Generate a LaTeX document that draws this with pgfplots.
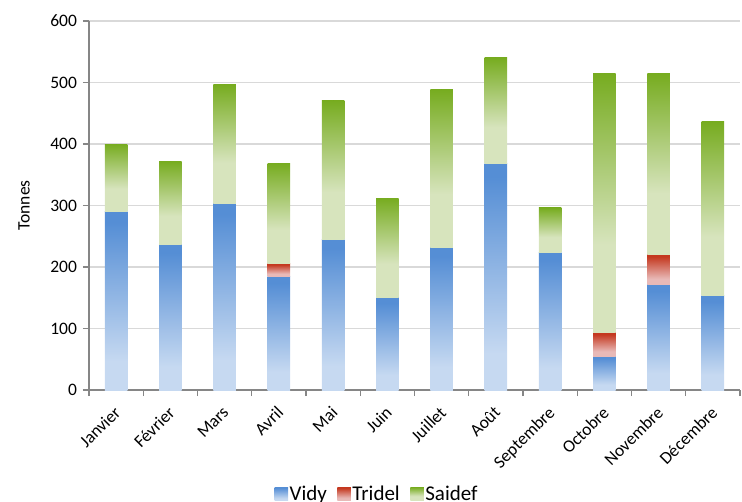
\documentclass[border=0pt]{standalone}
\usepackage{fontspec}
\setmainfont{Carlito}
\usepackage{pgfplots}
\usepackage{pgfplotstable}
\pgfplotsset{compat=1.18}

\definecolor{vidyD}{HTML}{558ED5}
\definecolor{vidyL}{HTML}{C6D9F1}
\definecolor{tridelD}{HTML}{C4381F}
\definecolor{tridelL}{HTML}{E8B9B7}
\definecolor{saidefD}{HTML}{77AC20}
\definecolor{saidefL}{HTML}{D7E4BD}
\definecolor{axgray}{HTML}{868686}
\definecolor{grgray}{HTML}{D9D9D9}

\pgfdeclareverticalshading{vidy}{100bp}{color(0bp)=(vidyL); color(25bp)=(vidyL); color(33bp)=(vidyL); color(72bp)=(vidyD); color(100bp)=(vidyD)}
\pgfdeclareverticalshading{tridel}{100bp}{color(0bp)=(tridelL); color(25bp)=(tridelL); color(35bp)=(tridelL); color(72bp)=(tridelD); color(100bp)=(tridelD)}
\pgfdeclareverticalshading{saidef}{100bp}{color(0bp)=(saidefL); color(25bp)=(saidefL); color(42bp)=(saidefL); color(75bp)=(saidefD); color(100bp)=(saidefD)}

% tonnes par mois
\pgfplotstableread{
x vidy tridel saidef
0  290 0  110
1  237 0  135
2  304 0  193
3  185 20 164
4  245 0  225
5  150 0  162
6  231 0  257
7  369 0  171
8  224 0  72
9  55  38 422
10 171 49 294
11 153 0  283
}\data

% one shaded bar per point: top at the point, height \barv tonnes (0.615pt per tonne)
\newdimen\barh
\pgfplotsset{
  gbar/.style={
    scatter, only marks, mark=*, mark size=0pt,
    mark options={draw=none, fill=none},
    scatter/@pre marker code/.code={%
      \pgfmathparse{\barv*0.615}%
      \barh=\pgfmathresult pt\relax
      \ifdim\barh>0.01pt
        \shade[shading=#1, draw=none] (-11.25pt,0pt) rectangle (11.25pt,-\barh);
      \fi},
    scatter/@post marker code/.code={},
    legend image code/.code={\shade[shading=#1, draw=none] (0pt,-6.5pt) rectangle (13.5pt,7pt);},
  },
}

\begin{document}
\begin{tikzpicture}
\fontsize{17.5}{21}\selectfont
\useasboundingbox (-89pt,-111pt) rectangle (653pt,390pt);
\begin{axis}[
    at={(0,0)}, anchor=south west,
    scale only axis,
    width=651pt, height=369pt,
    xmin=-0.5, xmax=11.5,
    ymin=0, ymax=600,
    ytick={0,100,...,600},
    xtick={0,...,11},
    xticklabels={Janvier,Février,Mars,Avril,Mai,Juin,Juillet,Août,Septembre,Octobre,Novembre,Décembre},
    minor xtick={-0.5,0.5,...,11.5},
    major x tick style={draw=none},
    tick align=outside,
    major tick length=6pt,
    minor tick length=6pt,
    tick style={axgray, line width=1.3pt},
    axis x line*=bottom,
    axis y line*=left,
    axis line style={axgray, line width=1.5pt, -},
    ymajorgrids=true,
    major grid style={grgray, line width=1.3pt},
    xticklabel style={xshift=-3pt, yshift=-9pt, rotate=45, anchor=north east, inner sep=0pt},
    /pgf/number format/assume math mode=true,
    ylabel={Tonnes},
    every axis y label/.style={at={(axis description cs:-0.0998,0.5)}, rotate=90, anchor=center},
    legend style={at={(0.2803,-0.3157)}, anchor=south west, draw=none, fill=none,
        font=\fontsize{21}{25}\selectfont,
        nodes={inner sep=1.5pt},
        legend columns=-1, /tikz/every even column/.append style={column sep=9pt}},
]
\addplot[gbar=vidy, visualization depends on={\thisrow{vidy} \as \barv}]
    table[x=x, y=vidy] {\data};
\addplot[gbar=tridel, visualization depends on={\thisrow{tridel} \as \barv}]
    table[x=x, y expr=\thisrow{vidy}+\thisrow{tridel}] {\data};
\addplot[gbar=saidef, visualization depends on={\thisrow{saidef} \as \barv}]
    table[x=x, y expr=\thisrow{vidy}+\thisrow{tridel}+\thisrow{saidef}] {\data};
\legend{Vidy, Tridel, Saidef}
\end{axis}
\end{tikzpicture}
\end{document}
